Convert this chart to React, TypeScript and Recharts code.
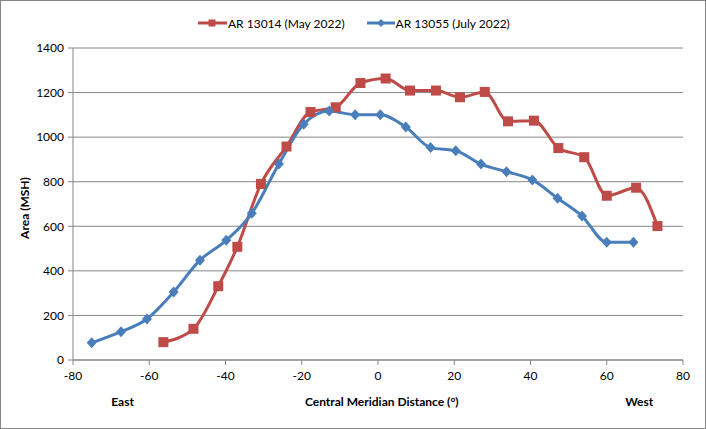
import React from 'react';
import { CartesianGrid, Label, Legend, Line, LineChart, XAxis, YAxis } from 'recharts';

// AR 13014 (May 2022)
const mayDistance = [
  -56.3, -48.4, -41.9, -36.9, -30.7, -24.0, -17.7, -11.1, -4.6, 2.0, 8.4,
  15.2, 21.5, 28.0, 34.1, 40.9, 47.3, 54.1, 60.0, 67.7, 73.3
];
const mayArea = [
  80, 140, 331, 508, 790, 958, 1113, 1134, 1243, 1263, 1209, 1209, 1179,
  1203, 1071, 1074, 951, 910, 737, 773, 601
];

// AR 13055 (July 2022)
const julyDistance = [
  -75.1, -67.4, -60.6, -53.6, -46.7, -39.8, -33.1, -26.0, -19.5, -12.8, -6.0,
  0.6, 7.3, 13.8, 20.4, 27.0, 33.7, 40.5, 47.1, 53.5, 60.0, 67.0
];
const julyArea = [
  77, 127, 184, 305, 448, 537, 658, 880, 1058, 1117, 1101, 1101, 1045, 953,
  939, 879, 845, 808, 726, 646, 528, 528
];

const xTicks = [-80, -60, -40, -20, 0, 20, 40, 60, 80];
const yTicks = [0, 200, 400, 600, 800, 1000, 1200, 1400];

const RED = '#BE4B48';
const BLUE = '#4A7EBB';
const AXIS = '#868686';
const FONT = 'Lato, "Open Sans", sans-serif';

const mayData = mayDistance.map((x, i) => ({ x, area: mayArea[i] }));
const julyData = julyDistance.map((x, i) => ({ x, area: julyArea[i] }));

if (typeof document !== 'undefined') {
  document.body.style.margin = '0';
}

const SquareDot = (props: any) => {
  const { cx, cy } = props;
  if (cx == null || cy == null) return null;
  return <rect x={cx - 5} y={cy - 5} width={10} height={10} fill={RED} />;
};

const DiamondDot = (props: any) => {
  const { cx, cy } = props;
  if (cx == null || cy == null) return null;
  return (
    <polygon
      points={`${cx},${cy - 5.5} ${cx + 5},${cy} ${cx},${cy + 5.5} ${cx - 5},${cy}`}
      fill={BLUE}
    />
  );
};

const LegendContent = () => (
  <div
    style={{
      height: 38,
      display: 'flex',
      alignItems: 'flex-start',
      paddingLeft: 198,
      fontFamily: FONT,
      fontSize: 12,
      color: '#000'
    }}
  >
    <div style={{ display: 'flex', alignItems: 'center', height: 26 }}>
      <svg width={29} height={10}>
        <line x1={0} y1={5} x2={29} y2={5} stroke={RED} strokeWidth={3} />
        <rect x={10.5} y={1.5} width={7} height={7} fill={RED} />
      </svg>
      <span style={{ marginLeft: 1 }}>AR 13014 (May 2022)</span>
    </div>
    <div style={{ display: 'flex', alignItems: 'center', height: 26, marginLeft: 22 }}>
      <svg width={28} height={10}>
        <line x1={0} y1={5} x2={28} y2={5} stroke={BLUE} strokeWidth={3} />
        <polygon points="14,1 18,5 14,9 10,5" fill={BLUE} />
      </svg>
      <span style={{ marginLeft: 1 }}>AR 13055 (July 2022)</span>
    </div>
  </div>
);

// bottom texts: East / axis title / West
const XTitles = (props: any) => {
  const vb = props.viewBox || {};
  const toPx = (v: number) => vb.x + ((v + 80) / 160) * vb.width;
  const y = 406;
  const common = { y, fontFamily: FONT, fontSize: 12, fontWeight: 700, fill: '#000', textAnchor: 'middle' as const };
  return (
    <g>
      <text x={toPx(-67)} {...common}>East</text>
      <text x={toPx(1)} {...common}>Central Meridian Distance (°)</text>
      <text x={toPx(68.5)} {...common}>West</text>
    </g>
  );
};

const YTitle = () => (
  <text
    x={29}
    y={208}
    transform="rotate(-90 29 208)"
    textAnchor="middle"
    fontFamily={FONT}
    fontSize={12}
    fontWeight={700}
    fill="#000"
  >
    Area (MSH)
  </text>
);

export default function App() {
  return (
    <div style={{ position: 'relative', width: 706, height: 429, background: '#fff' }}>
      <LineChart
        width={706}
        height={429}
        margin={{ top: 10, right: 23, bottom: 0, left: 0 }}
        style={{ position: 'absolute', left: 0, top: 0 }}
      >
        <CartesianGrid vertical={false} stroke={AXIS} strokeWidth={1} />
        <XAxis
          type="number"
          dataKey="x"
          domain={[-80, 80]}
          ticks={xTicks}
          interval={0}
          allowDataOverflow
          height={69}
          axisLine={{ stroke: AXIS }}
          tickLine={{ stroke: AXIS }}
          tickSize={5}
          tickMargin={6}
          tick={{ fill: '#000', fontSize: 12, fontFamily: FONT }}
        >
          <Label content={<XTitles />} />
        </XAxis>
        <YAxis
          type="number"
          dataKey="area"
          domain={[0, 1400]}
          ticks={yTicks}
          interval={0}
          width={73}
          axisLine={{ stroke: AXIS }}
          tickLine={{ stroke: AXIS }}
          tickSize={5}
          tickMargin={4}
          tick={{ fill: '#000', fontSize: 12, fontFamily: FONT }}
        >
          <Label content={<YTitle />} />
        </YAxis>
        <Legend verticalAlign="top" align="left" content={<LegendContent />} />
        <Line
          data={mayData}
          dataKey="area"
          name="AR 13014 (May 2022)"
          type="monotone"
          stroke={RED}
          strokeWidth={3}
          dot={<SquareDot />}
          activeDot={false}
          isAnimationActive={false}
        />
        <Line
          data={julyData}
          dataKey="area"
          name="AR 13055 (July 2022)"
          type="monotone"
          stroke={BLUE}
          strokeWidth={3}
          dot={<DiamondDot />}
          activeDot={false}
          isAnimationActive={false}
        />
      </LineChart>
      <div
        style={{
          position: 'absolute',
          inset: 0,
          border: `1px solid ${AXIS}`,
          pointerEvents: 'none'
        }}
      />
    </div>
  );
}
